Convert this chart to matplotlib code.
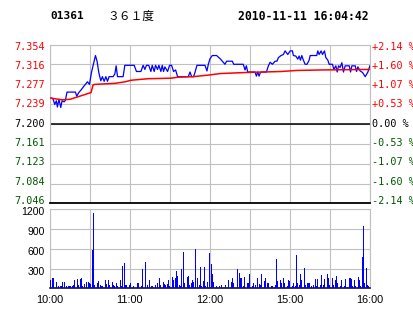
import matplotlib
matplotlib.use("Agg")
import matplotlib.pyplot as plt
import matplotlib.transforms as mtransforms

# intraday price, minutes since 10:00 on a 240-minute trading axis
price_min = [1.5, 2.6, 3.9, 5.1, 5.9, 7.1, 8.4, 9.4, 10.9, 11.9, 13.1, 19.4, 20.4, 21.9, 23.9, 25.9,
             28.4, 29.9, 31.4, 32.6, 34.4, 35.6, 36.9, 38.4, 39.6, 40.9, 42.2, 43.4, 44.6, 47.6, 48.9,
             49.9, 50.9, 55.1, 56.4, 63.4, 65.1, 68.4, 70.1, 71.4, 72.6, 74.3, 75.9, 76.9, 78.4, 79.4,
             80.9, 81.9, 83.4, 84.4, 85.4, 86.4, 88.4, 89.9, 91.4, 92.9, 94.4, 95.9, 103.9, 105.2,
             106.4, 107.9, 108.9, 110.4, 116.4, 117.9, 118.9, 120.2, 121.9, 125.1, 127.7, 129.4, 131.4,
             132.6, 136.9, 137.9, 145.1, 146.4, 147.4, 148.4, 153.9, 154.9, 155.9, 156.9, 157.9, 158.9,
             162.4, 163.9, 165.2, 166.9, 168.9, 170.3, 171.4, 173.4, 175.1, 176.4, 178.4, 180.2, 181.9,
             182.6, 184.4, 185.9, 186.9, 187.9, 188.9, 190.1, 191.4, 192.8, 194.4, 195.2, 200.1, 200.9,
             201.9, 203.4, 204.4, 205.9, 206.9, 208.4, 209.4, 211.9, 212.9, 214.4, 215.4, 216.4, 217.6,
             218.9, 220.1, 221.4, 224.4, 225.4, 226.4, 228.9, 229.9, 230.9, 232.6, 234.4, 236.4, 238.4,
             239.9]
price = [7.250, 7.249, 7.238, 7.245, 7.233, 7.248, 7.232, 7.245, 7.243, 7.246, 7.262, 7.262, 7.254,
         7.261, 7.267, 7.274, 7.282, 7.277, 7.300, 7.313, 7.333, 7.322, 7.300, 7.284, 7.292, 7.283,
         7.292, 7.283, 7.292, 7.292, 7.297, 7.313, 7.292, 7.292, 7.314, 7.314, 7.302, 7.302, 7.314,
         7.306, 7.314, 7.314, 7.302, 7.314, 7.302, 7.314, 7.306, 7.314, 7.302, 7.314, 7.302, 7.311,
         7.302, 7.314, 7.314, 7.302, 7.305, 7.292, 7.292, 7.301, 7.292, 7.292, 7.300, 7.314, 7.314,
         7.303, 7.316, 7.327, 7.333, 7.333, 7.327, 7.322, 7.316, 7.322, 7.322, 7.316, 7.316, 7.305,
         7.313, 7.301, 7.301, 7.293, 7.301, 7.293, 7.300, 7.301, 7.301, 7.313, 7.320, 7.316, 7.322,
         7.322, 7.329, 7.333, 7.335, 7.342, 7.335, 7.342, 7.342, 7.333, 7.332, 7.326, 7.332, 7.324,
         7.333, 7.324, 7.316, 7.316, 7.324, 7.333, 7.333, 7.342, 7.335, 7.342, 7.335, 7.342, 7.329,
         7.324, 7.316, 7.316, 7.306, 7.313, 7.301, 7.313, 7.310, 7.319, 7.301, 7.313, 7.313, 7.301,
         7.313, 7.313, 7.302, 7.311, 7.303, 7.300, 7.292, 7.301, 7.313]

# average price line
avg_min = [0, 4.1, 9.4, 15.4, 21.4, 27.4, 31.1, 32.6, 34.1, 49.1, 56.6, 61.1, 73.9, 91.1, 96.4,
           107.6, 118.9, 121.9, 127.9, 146.6, 173.6, 184.9, 203.6, 240]
avg_price = [7.251, 7.249, 7.247, 7.248, 7.253, 7.258, 7.261, 7.276, 7.277, 7.279, 7.282, 7.285,
             7.288, 7.289, 7.291, 7.292, 7.295, 7.296, 7.298, 7.300, 7.302, 7.304, 7.305, 7.306]

# volume per minute
vol_min = [0, 1, 2, 3, 5, 7, 8, 9, 10, 11, 13, 14, 15, 16, 17, 18, 19, 21, 22, 23, 24, 25, 26, 28,
           29, 30, 31, 32, 33, 34, 36, 37, 38, 39, 40, 42, 43, 44, 45, 47, 48, 49, 50, 51, 53, 54,
           55, 56, 57, 58, 60, 61, 63, 66, 67, 69, 70, 72, 73, 75, 76, 77, 79, 81, 82, 83, 85, 86,
           87, 88, 89, 90, 92, 93, 94, 95, 96, 97, 98, 99, 100, 101, 103, 104, 105, 106, 107, 108,
           109, 111, 112, 113, 114, 115, 116, 117, 118, 120, 121, 122, 123, 125, 127, 129, 132, 134,
           136, 137, 138, 141, 142, 143, 144, 145, 146, 148, 149, 150, 152, 153, 154, 156, 157, 158,
           159, 161, 162, 163, 164, 166, 167, 169, 170, 171, 173, 174, 175, 176, 178, 179, 180, 182,
           183, 184, 185, 186, 187, 188, 189, 191, 192, 193, 194, 195, 196, 198, 199, 200, 201, 203,
           204, 205, 206, 208, 209, 210, 212, 213, 214, 215, 216, 218, 219, 221, 222, 223, 225, 226,
           227, 228, 229, 231, 232, 233, 234, 235, 236, 237, 238, 239, 240]
vol_qty = [76, 127, 152, 152, 91, 35, 35, 35, 91, 101, 35, 35, 35, 35, 35, 50, 127, 142, 50, 142,
           152, 35, 60, 91, 101, 76, 60, 582, 1139, 50, 76, 111, 50, 35, 35, 127, 60, 127, 50, 101,
           50, 35, 76, 35, 127, 35, 339, 380, 50, 50, 50, 76, 35, 76, 76, 35, 293, 395, 50, 127, 35,
           35, 50, 76, 162, 50, 101, 60, 50, 60, 127, 35, 177, 127, 162, 263, 192, 50, 35, 293, 557,
           76, 177, 192, 50, 76, 127, 101, 597, 152, 50, 329, 35, 111, 329, 35, 91, 536, 364, 212,
           91, 35, 35, 50, 50, 127, 101, 152, 76, 293, 228, 152, 152, 35, 177, 76, 76, 218, 35, 76,
           50, 152, 60, 50, 218, 111, 152, 76, 76, 35, 35, 50, 445, 111, 127, 76, 152, 76, 35, 127,
           111, 35, 76, 35, 506, 76, 50, 218, 127, 304, 50, 76, 76, 76, 35, 50, 142, 35, 142, 50,
           202, 50, 142, 218, 162, 50, 162, 50, 127, 192, 76, 35, 127, 35, 142, 25, 162, 142, 35,
           127, 35, 177, 127, 35, 481, 941, 76, 304, 50, 35, 50]

price_ticks = [7.046, 7.084, 7.123, 7.161, 7.200, 7.239, 7.277, 7.316, 7.354]
pct_labels = ["-2.14 %", "-1.60 %", "-1.07 %", "-0.53 %", "0.00 %",
              "+0.53 %", "+1.07 %", "+1.60 %", "+2.14 %"]
vol_ticks = [300, 600, 900, 1200]
time_ticks = [0, 60, 120, 180, 240]
time_labels = ["10:00", "11:00", "12:00", "15:00", "16:00"]

code = "01361"
name = "３６１度"
stamp = "2010-11-11 16:04:42"

RED = "#ff0000"
GREEN = "#005a00"
GRID = "#c0c0c0"
MONO = "DejaVu Sans Mono"
SANS = "Liberation Sans"


def level_color(i):
    if i > 4:
        return RED
    if i < 4:
        return GREEN
    return "black"


fig = plt.figure(figsize=(4.14, 3.14), dpi=100)
fig.patch.set_facecolor("white")

# price panel
ax = fig.add_axes([0.1196, 0.3525, 0.7742, 0.5051])
ax.set_xlim(0, 240)
ax.set_ylim(price_ticks[0], price_ticks[-1])
ax.set_xticks(range(0, 241, 30))
ax.set_xticklabels([])
ax.set_yticks(price_ticks)
ax.set_yticklabels([])
ax.tick_params(length=0)
ax.grid(color=GRID, lw=0.8)
ax.axhline(7.2, color="black", lw=1.1, zorder=2)
for s in ["left", "top", "right"]:
    ax.spines[s].set_color(GRID)
    ax.spines[s].set_linewidth(0.8)
ax.spines["bottom"].set_color("black")
ax.spines["bottom"].set_linewidth(1.3)

ax.plot(price_min, price, color="#0000ff", lw=0.9, zorder=3)
ax.plot(avg_min, avg_price, color=RED, lw=1.1, zorder=4)

# level labels on both sides, spaced a touch tighter than the grid like the original
ytrans = ax.get_yaxis_transform()
for i, v in enumerate(price_ticks):
    dy = -2.3 + (8 - i) * 0.6
    left = mtransforms.offset_copy(ytrans, fig=fig, x=-5, y=dy, units="dots")
    right = mtransforms.offset_copy(ytrans, fig=fig, x=1.5, y=dy, units="dots")
    ax.text(0, v, f"{v:.3f}", transform=left, ha="right", va="center",
            family=MONO, fontsize=7.3, color=level_color(i))
    ax.text(1, v, pct_labels[i], transform=right, ha="left", va="center",
            family=MONO, fontsize=7.3, color=level_color(i))

# volume panel
ax2 = fig.add_axes([0.1196, 0.0818, 0.7742, 0.2516])
ax2.bar(vol_min, vol_qty, width=0.75, color="#0000ff", zorder=3)
ax2.set_xlim(0, 240)
ax2.set_ylim(0, 1200)
ax2.set_xticks(time_ticks)
ax2.set_xticklabels(time_labels, family=SANS, fontsize=7.8)
ax2.set_xticks(range(30, 240, 60), minor=True)
ax2.set_yticks(vol_ticks)
ax2.set_yticklabels([])
ax2.tick_params(which="both", length=0, pad=5)
ax2.grid(which="both", color=GRID, lw=0.8)
for s in ["left", "top", "right"]:
    ax2.spines[s].set_color(GRID)
    ax2.spines[s].set_linewidth(0.8)
ax2.spines["bottom"].set_color("black")
ax2.spines["bottom"].set_linewidth(1.1)

vol_trans = mtransforms.offset_copy(ax2.get_yaxis_transform(), fig=fig, x=-5, y=-3, units="dots")
for v in vol_ticks:
    ax2.text(0, v, str(v), transform=vol_trans, ha="right", va="center",
             family=SANS, fontsize=7.5)

# header
fig.text(50 / 414, 1 - 16 / 314, code, family=MONO, weight="bold", fontsize=8, va="center")
fig.text(107 / 414, 1 - 16 / 314, name, family=["Noto Sans CJK SC", MONO], fontsize=8.5, va="center")
fig.text(369 / 414, 1 - 16 / 314, stamp, family=MONO, weight="bold", fontsize=8.3,
         va="center", ha="right")

fig.savefig("out.png", dpi=100)
